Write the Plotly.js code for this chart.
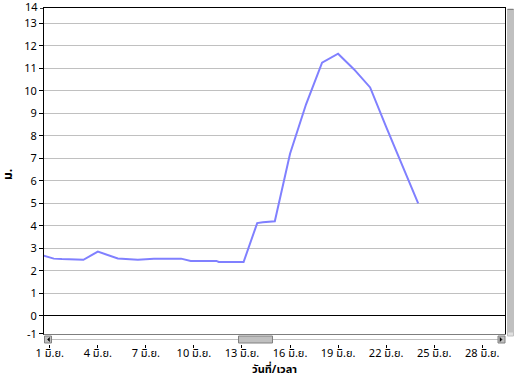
<!DOCTYPE html>
<html>
<head>
<meta charset="utf-8">
<script src="https://cdn.plot.ly/plotly-3.0.1.min.js"></script>
<style>
html,body{margin:0;padding:0;background:#fff;}
#chart{width:517px;height:377px;}
</style>
</head>
<body>
<div id="chart"></div>
<script>
// Day of June (fractional) and water level (m.)
const days = [0.5, 1.25, 1.75, 3.1, 4.0, 5.0, 5.25, 6.5, 7.5, 9.2, 9.8, 11.4, 11.55, 13.1, 13.95, 14.3, 15.05, 16.0, 17.0, 18.0, 19.0, 20.0, 21.0, 22.0, 23.0, 24.0];
const levels = [2.7, 2.54, 2.52, 2.49, 2.85, 2.6, 2.55, 2.49, 2.54, 2.54, 2.44, 2.44, 2.39, 2.39, 4.12, 4.16, 4.2, 7.2, 9.4, 11.25, 11.65, 10.95, 10.15, 8.4, 6.7, 5.0];

const xTickVals = [1, 4, 7, 10, 13, 16, 19, 22, 25, 28];
const xTickText = ["1 มิ.ย.", "4 มิ.ย.", "7 มิ.ย.", "10 มิ.ย.", "13 มิ.ย.", "16 มิ.ย.", "19 มิ.ย.", "22 มิ.ย.", "25 มิ.ย.", "28 มิ.ย."];
const yTickVals = [-0.8, 0, 1, 2, 3, 4, 5, 6, 7, 8, 9, 10, 11, 12, 13];
const yTickText = ["-1", "0", "1", "2", "3", "4", "5", "6", "7", "8", "9", "10", "11", "12", "13"];
const yTopVal = 13.67, yTopText = "14";
const xTitle = "วันที่/เวลา", yTitle = "ม.";

const W = 517, H = 377, L = 44, R = 505, T = 8, B = 334;
const px = x => (x - L) / (R - L);
const py = y => (B - y) / (B - T);
const font = "Tahoma, 'Noto Sans Thai', 'DejaVu Sans', sans-serif";

function rect(x0, y0, x1, y1, fill, line) {
  return {type: 'rect', xref: 'paper', yref: 'paper', x0: px(x0), x1: px(x1), y0: py(y1), y1: py(y0),
    fillcolor: fill, line: {color: line || fill, width: 1}, layer: 'above'};
}
function lineSh(x0, y0, x1, y1, color) {
  return {type: 'line', xref: 'paper', yref: 'paper', x0: px(x0), x1: px(x1), y0: py(y0), y1: py(y1),
    line: {color: color, width: 1}, layer: 'above'};
}
function tri(pts) {
  let d = 'M' + pts.map(p => px(p[0]) + ',' + py(p[1])).join(' L') + ' Z';
  return {type: 'path', xref: 'paper', yref: 'paper', path: d, fillcolor: '#000', line: {color: '#000', width: 0.5}, layer: 'above'};
}

const shapes = [
  // top tick for "14"
  {type: 'line', xref: 'paper', yref: 'y', x0: px(40), x1: px(44), y0: yTopVal, y1: yTopVal, line: {color: '#000', width: 1}},
  // horizontal scrollbar
  rect(43.5, 335, 506, 344.5, '#ffffff', '#ffffff'),
  lineSh(52, 339.5, 498, 339.5, '#c0c0c0'),
  rect(44.5, 336, 51.5, 343, '#c0c0c0', '#808080'),
  tri([[49.5, 337.5], [49.5, 341.5], [47.5, 339.5]]),
  rect(238.5, 336, 272.5, 343, '#c0c0c0', '#808080'),
  rect(498, 336, 505, 343, '#c0c0c0', '#808080'),
  tri([[500, 337.5], [500, 341.5], [502, 339.5]]),
  // vertical scrollbar
  rect(507.5, 9, 513.5, 332, '#c0c0c0', '#c0c0c0'),
  lineSh(507.5, 9.5, 513.5, 9.5, '#808080'),
  rect(507.5, 332, 513.5, 336, '#e0e0e0', '#c0c0c0')
];

const annotations = [
  {xref: 'paper', yref: 'y', x: px(39), y: yTopVal, text: yTopText, showarrow: false, yshift: 1, borderpad: 0,
   xanchor: 'right', yanchor: 'middle', font: {family: font, size: 11, color: '#000'}},
  {xref: 'paper', yref: 'paper', x: 0.5, y: py(369), text: '<b>' + xTitle + '</b>', showarrow: false, borderpad: 0,
   xanchor: 'center', yanchor: 'middle', font: {family: font, size: 11, color: '#000'}},
  {xref: 'paper', yref: 'paper', x: px(8), y: py(175), text: '<b>' + yTitle + '</b>', showarrow: false,
   textangle: -90, xanchor: 'center', yanchor: 'middle', font: {family: font, size: 12, color: '#000'}}
];

const data = [{
  x: days, y: levels, type: 'scatter', mode: 'lines',
  line: {color: '#8080ff', width: 2}, hoverinfo: 'skip'
}];

const layout = {
  width: W, height: H,
  margin: {l: L, r: W - R, t: T, b: H - B},
  paper_bgcolor: '#fff', plot_bgcolor: '#fff',
  showlegend: false,
  font: {family: font, size: 11, color: '#000'},
  xaxis: {
    range: [0.64, 29.42], tickmode: 'array', tickvals: xTickVals, ticktext: xTickText,
    showgrid: false, zeroline: false, showline: true, linecolor: '#000', linewidth: 1, mirror: true,
    ticks: 'outside', ticklen: 13, tickcolor: '#000', tickwidth: 1, ticklabelstandoff: -4,
    tickfont: {family: font, size: 11, color: '#000'}
  },
  yaxis: {
    range: [-0.81, 13.68], tickmode: 'array', tickvals: yTickVals, ticktext: yTickText,
    showgrid: true, gridcolor: '#c0c0c0', gridwidth: 1,
    zeroline: true, zerolinecolor: '#000', zerolinewidth: 1,
    showline: true, linecolor: '#000', linewidth: 1, mirror: true,
    ticks: 'outside', ticklen: 4, tickcolor: '#000',
    tickfont: {family: font, size: 11, color: '#000'}
  },
  shapes: shapes,
  annotations: annotations
};

Plotly.newPlot('chart', data, layout, {staticPlot: true, displayModeBar: false});
</script>
</body>
</html>
